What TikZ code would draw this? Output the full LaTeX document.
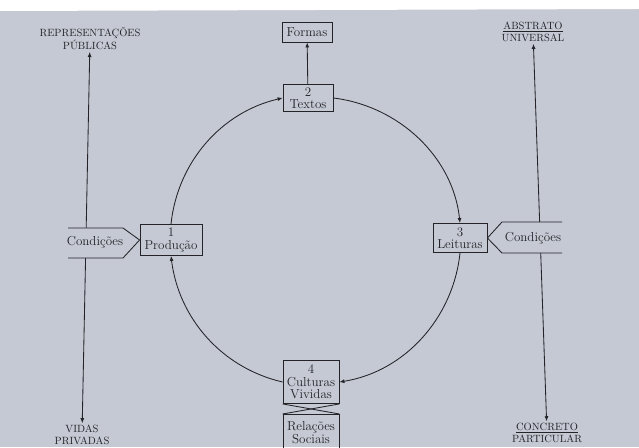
\documentclass[tikz,border=0pt]{standalone}
\usetikzlibrary{arrows.meta}
\definecolor{paper}{RGB}{197,201,211}
\definecolor{ink}{RGB}{35,35,40}
\begin{document}
\begin{tikzpicture}[x=1pt,y=1pt,
  every node/.style={text=ink},
  box/.style={draw=ink,line width=0.85pt,align=center,inner sep=0pt,
    font=\fontsize{13}{12.5}\selectfont},
  caption/.style={align=center,inner sep=2pt,font=\fontsize{10.5}{11.5}\selectfont},
  condtext/.style={inner sep=0pt,font=\fontsize{13}{13}\selectfont},
  link/.style={draw=ink,line width=0.85pt},
  tip/.style={-{Latex[length=5pt,width=4pt]}},
  tips/.style={{Latex[length=5pt,width=4pt]}-{Latex[length=5pt,width=4pt]}}]
\useasboundingbox (0,0) rectangle (639,447);
\fill[paper] (0,0) rectangle (639,447);
\fill[white] (0,447) -- (639,447) -- (639,438) -- (0,436) -- cycle;

% side captions
\node[caption] (rep) at (90,408) {REPRESENTAÇÕES\\PÚBLICAS};
\node[caption] (vid) at (82,12) {VIDAS\\PRIVADAS};
\node[caption] (abs) at (533,415) {\underline{ABSTRATO}\\UNIVERSAL};
\node[caption] (con) at (547,14) {\underline{CONCRETO}\\PARTICULAR};
\draw[link,tips] (rep) -- (vid);
\draw[link,tips] (abs) -- (con);

% boxes
\node[box,minimum width=50pt,minimum height=20pt] (formas) at (307,415) {Formas};
\node[box,minimum width=50pt,minimum height=27pt] (textos) at (308,349) {2\\Textos};
\node[box,minimum width=62pt,minimum height=31pt] (prod) at (171,207) {1\\Produção};
\node[box,minimum width=54pt,minimum height=29pt] (leit) at (460,209) {3\\Leituras};
\node[box,minimum width=56pt,minimum height=43pt] (cult) at (311,65) {4\\Culturas\\Vividas};
\node[box,minimum width=56pt,minimum height=36pt,anchor=north] (rel) at (311,33) {Relações\\Sociais};

% cross between Culturas and Relações
\draw[link] (cult.south west) -- (rel.north east);
\draw[link] (cult.south east) -- (rel.north west);

% arrow to Formas
\draw[link,tip] (textos) -- (formas);

% cycle arcs
\draw[link,tip] (prod.north) to[out=84,in=193,looseness=0.95] (textos.west);
\draw[link,tip] (textos.east) to[out=-7,in=96,looseness=0.95] (leit.north);
\draw[link,tip] (leit.south) to[out=-96,in=9,looseness=0.95] (cult.east);
\draw[link,tip] (cult.west) to[out=167,in=-83,looseness=0.95] (prod.south);

% Condições left
\fill[paper] (68,219) -- (123,219) -- (prod.west) -- (123,189) -- (68,189) -- cycle;
\draw[link] (68,219) -- (123,219) -- (prod.west) -- (123,189) -- (68,189);
\node[condtext] (condl) at (95,205) {Condições};

% Condições right
\fill[paper] (562,225) -- (502,225) -- (leit.east) -- (502,194) -- (562,194) -- cycle;
\draw[link] (562,225) -- (502,225) -- (leit.east) -- (502,194) -- (562,194);
\node[condtext] (condr) at (533,209) {Condições};
\end{tikzpicture}
\end{document}
